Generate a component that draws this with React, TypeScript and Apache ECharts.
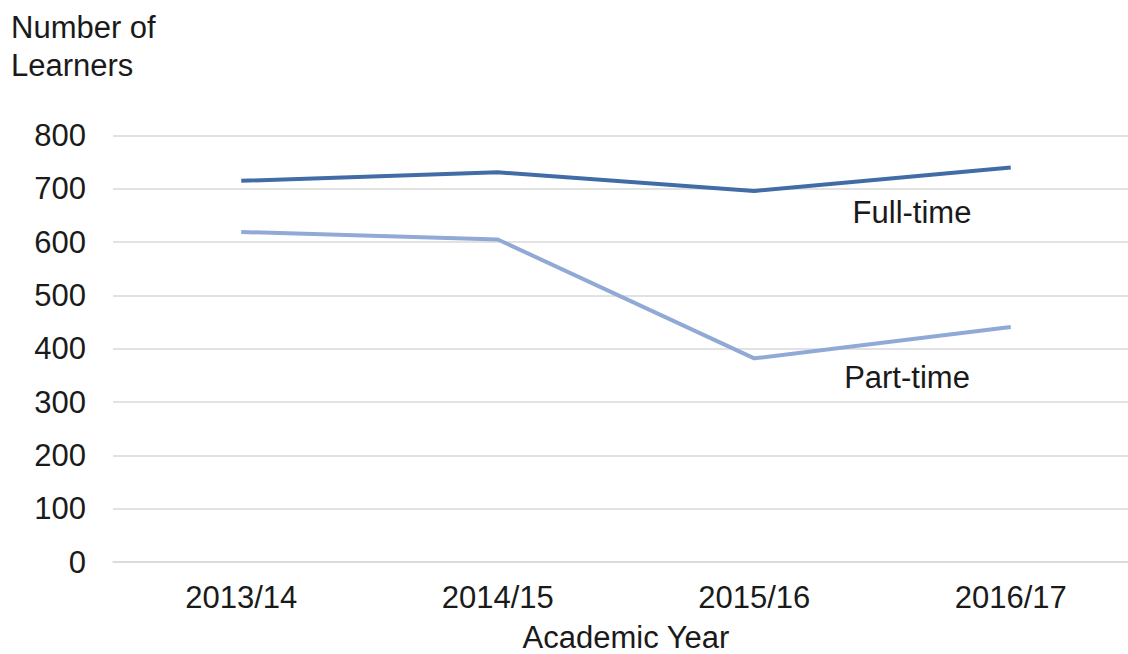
import React, { useEffect, useRef } from "react";
import * as echarts from "echarts";

const categories = ["2013/14", "2014/15", "2015/16", "2016/17"];
const fullTime = [715, 731, 696, 740];
const partTime = [619, 605, 382, 441];
const yTicks = { min: 0, max: 800, interval: 100 };

const FONT = "'Liberation Sans', Arial, sans-serif";
const TEXT = "#1a1a1a";
const FS = 31;

export default function App() {
  const ref = useRef<HTMLDivElement>(null);
  useEffect(() => {
    document.body.style.margin = "0";
    const chart = echarts.init(ref.current!, undefined, { renderer: "svg" });
    chart.setOption({
      animation: false,
      textStyle: { fontFamily: FONT },
      grid: {
        left: 113,
        right: -11,
        top: 135.5,
        bottom: 92,
        containLabel: false,
        outerBoundsMode: "none",
      },
      xAxis: {
        type: "category",
        data: categories,
        boundaryGap: true,
        axisTick: { show: false },
        axisLine: { show: true, lineStyle: { color: "#d9d9d9", width: 1.5 } },
        axisLabel: { color: TEXT, fontSize: FS, fontFamily: FONT, margin: 20 },
        name: "Academic Year",
        nameLocation: "middle",
        nameGap: 63,
        nameTextStyle: { color: TEXT, fontSize: FS, fontFamily: FONT, lineHeight: 24 },
      },
      yAxis: {
        type: "value",
        min: yTicks.min,
        max: yTicks.max,
        interval: yTicks.interval,
        axisLine: { show: false },
        axisTick: { show: false },
        splitLine: { lineStyle: { color: "#d9d9d9", width: 1.5 } },
        axisLabel: { color: TEXT, fontSize: FS, fontFamily: FONT, margin: 27 },
      },
      graphic: [
        {
          type: "text",
          left: 11,
          top: 8,
          style: {
            text: "Number of\nLearners",
            fontSize: FS,
            fontFamily: FONT,
            fill: TEXT,
            lineHeight: 38,
          },
        },
        {
          type: "text",
          x: 912,
          y: 212,
          style: {
            text: "Full-time",
            fontSize: FS,
            fontFamily: FONT,
            fill: TEXT,
            textAlign: "center",
            textVerticalAlign: "middle",
          },
        },
        {
          type: "text",
          x: 907,
          y: 377,
          style: {
            text: "Part-time",
            fontSize: FS,
            fontFamily: FONT,
            fill: TEXT,
            textAlign: "center",
            textVerticalAlign: "middle",
          },
        },
      ],
      series: [
        {
          name: "Full-time",
          type: "line",
          data: fullTime,
          symbol: "none",
          lineStyle: { color: "#416ca5", width: 4 },
        },
        {
          name: "Part-time",
          type: "line",
          data: partTime,
          symbol: "none",
          lineStyle: { color: "#91a9d5", width: 4 },
        },
      ],
    });
    return () => chart.dispose();
  }, []);
  return <div ref={ref} style={{ width: 1128, height: 654 }} />;
}
